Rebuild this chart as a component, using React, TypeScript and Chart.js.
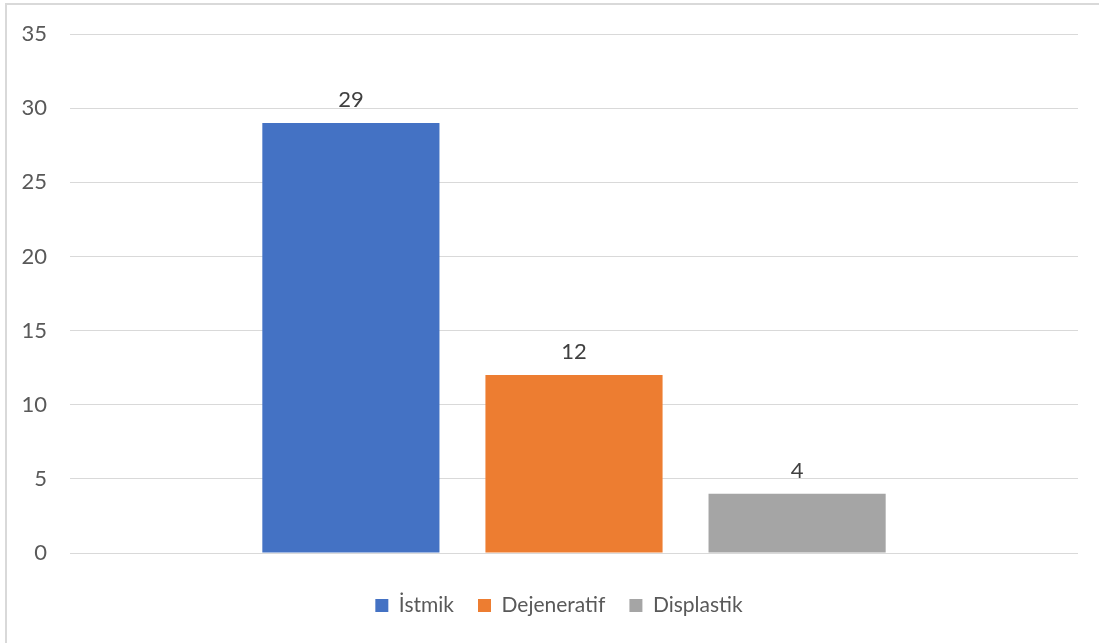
import React, { useEffect, useRef } from "react";
import { Chart, registerables } from "chart.js";

Chart.register(...registerables);

const categories = [""];
const seriesNames = ["İstmik", "Dejeneratif", "Displastik"];
const seriesValues = [[29], [12], [4]];
const seriesColors = ["#4472C4", "#ED7D31", "#A5A5A5"];
const yTicks = [0, 5, 10, 15, 20, 25, 30, 35];

const FONT = "Lato, 'Noto Sans', sans-serif";

const dataLabelPlugin = {
  id: "dataLabels",
  afterDatasetsDraw(chart: any) {
    const ctx = chart.ctx;
    ctx.save();
    ctx.font = `22px ${FONT}`;
    ctx.fillStyle = "#404040";
    ctx.textAlign = "center";
    ctx.textBaseline = "alphabetic";
    chart.data.datasets.forEach((ds: any, i: number) => {
      const meta = chart.getDatasetMeta(i);
      meta.data.forEach((bar: any, j: number) => {
        ctx.fillText(String(ds.data[j]), bar.x, bar.y - 16);
      });
    });
    ctx.restore();
  },
};

const legendShiftPlugin = {
  id: "legendShift",
  afterLayout(chart: any) {
    const l = chart.legend;
    if (l) {
      l.left += 20;
      l.right += 20;
    }
  },
};

export default function App() {
  const ref = useRef<HTMLCanvasElement>(null);
  useEffect(() => {
    if (!ref.current) return;
    const chart = new Chart(ref.current, {
      type: "bar",
      data: {
        labels: categories,
        datasets: seriesNames.map((name, i) => ({
          label: name,
          data: seriesValues[i],
          backgroundColor: seriesColors[i],
          borderWidth: 0,
          categoryPercentage: 0.664,
          barPercentage: 0.794,
        })),
      },
      options: {
        animation: false,
        responsive: false,
        maintainAspectRatio: false,
        layout: { padding: { top: 34, right: 21, bottom: 17, left: 0 } },
        plugins: {
          tooltip: { enabled: false },
          legend: {
            position: "bottom",
            labels: {
              boxWidth: 13,
              boxHeight: 13,
              padding: 24,
              color: "#595959",
              font: { family: FONT, size: 21 },
            },
          },
        },
        scales: {
          x: {
            display: true,
            grid: { display: false, drawTicks: false },
            border: { display: false },
            ticks: { display: false },
            afterFit: (scale: any) => {
              scale.height = 18;
            },
          },
          y: {
            min: 0,
            max: 35,
            afterBuildTicks: (scale: any) => {
              scale.ticks = yTicks.map((v) => ({ value: v }));
            },
            afterFit: (scale: any) => {
              scale.width = 70;
              scale.paddingTop = 0;
            },
            grid: { color: "#D9D9D9", lineWidth: 1, drawTicks: false },
            border: { display: false },
            ticks: {
              padding: 23,
              color: "#595959",
              font: { family: FONT, size: 22 },
            },
          },
        },
      },
      plugins: [dataLabelPlugin, legendShiftPlugin],
    });
    return () => chart.destroy();
  }, []);

  return (
    <div style={{ position: "fixed", left: 0, top: 0, width: 1099, height: 643, background: "#fff" }}>
      <div
        style={{
          position: "absolute",
          left: 5,
          top: 3,
          width: 1110,
          height: 660,
          borderLeft: "2px solid #D9D9D9",
          borderTop: "2px solid #D9D9D9",
          boxSizing: "border-box",
        }}
      />
      <canvas ref={ref} width={1099} height={643} style={{ position: "absolute", left: 0, top: 0 }} />
    </div>
  );
}
